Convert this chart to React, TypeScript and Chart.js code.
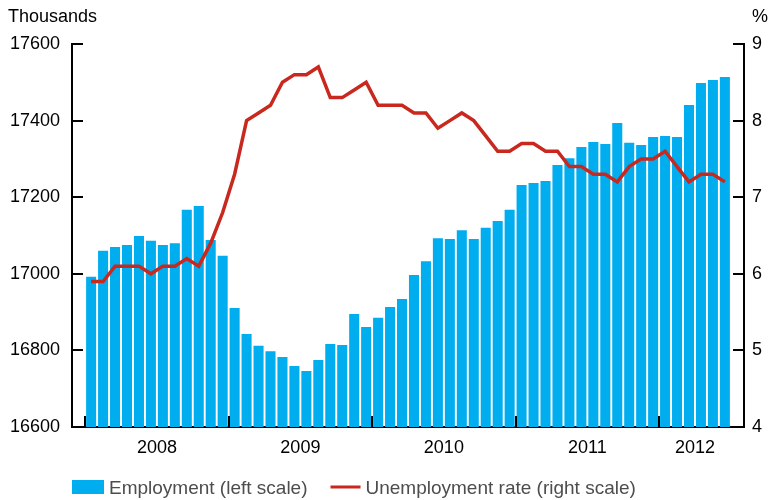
import React, { useEffect, useRef } from 'react';
import { Chart, registerables } from 'chart.js';

Chart.register(...registerables);

const years = ['2008', '2009', '2010', '2011', '2012'];
const monthsPerYear = [12, 12, 12, 12, 6];

const employment = [
  16992, 17060, 17070, 17075, 17099, 17086, 17075, 17080, 17167, 17177, 17088, 17047,
  16911, 16843, 16812, 16798, 16783, 16759, 16746, 16775, 16817, 16814, 16895, 16861,
  16885, 16913, 16934, 16997, 17033, 17093, 17091, 17114, 17091, 17120, 17138, 17167,
  17232, 17237, 17242, 17284, 17302, 17331, 17344, 17339, 17394, 17342, 17336, 17357,
  17360, 17357, 17441, 17498, 17506, 17514,
];

const unemployment = [
  5.9, 5.9, 6.1, 6.1, 6.1, 6.0, 6.1, 6.1, 6.2, 6.1, 6.4, 6.8,
  7.3, 8.0, 8.1, 8.2, 8.5, 8.6, 8.6, 8.7, 8.3, 8.3, 8.4, 8.5,
  8.2, 8.2, 8.2, 8.1, 8.1, 7.9, 8.0, 8.1, 8.0, 7.8, 7.6, 7.6,
  7.7, 7.7, 7.6, 7.6, 7.4, 7.4, 7.3, 7.3, 7.2, 7.4, 7.5, 7.5,
  7.6, 7.4, 7.2, 7.3, 7.3, 7.2,
];

const leftAxis = { min: 16600, max: 17600, step: 200, title: 'Thousands' };
const rightAxis = { min: 4, max: 9, step: 1, title: '%' };

const seriesLabels = ['Employment (left scale)', 'Unemployment rate (right scale)'];

const BAR_COLOR = '#00adef';
const LINE_COLOR = '#c8281e';
const FONT = '"Liberation Sans", Arial, Helvetica, sans-serif';

const yearStarts: number[] = [];
const yearCenters: number[] = [];
{
  let acc = 0;
  monthsPerYear.forEach((n) => {
    yearStarts.push(acc);
    yearCenters.push(acc + n / 2);
    acc += n;
  });
}

const decorPlugin = {
  id: 'decor',
  afterDraw(chart: any) {
    const ctx = chart.ctx as CanvasRenderingContext2D;
    const area = chart.chartArea;
    const xs = chart.scales.x;
    const yl = chart.scales.y;
    const yr = chart.scales.y1;
    ctx.save();
    ctx.strokeStyle = '#000';
    ctx.lineWidth = 2;
    ctx.beginPath();
    yl.ticks.forEach((t: any) => {
      const py = Math.round(yl.getPixelForValue(t.value));
      ctx.moveTo(area.left, py);
      ctx.lineTo(area.left + 11, py);
    });
    yr.ticks.forEach((t: any) => {
      const py = Math.round(yr.getPixelForValue(t.value));
      ctx.moveTo(area.right, py);
      ctx.lineTo(area.right - 11, py);
    });
    yearStarts.forEach((v) => {
      const px = Math.round(xs.getPixelForValue(v));
      ctx.moveTo(px, area.bottom);
      ctx.lineTo(px, area.bottom - 11);
    });
    ctx.stroke();

    // axis unit titles
    ctx.fillStyle = '#000';
    ctx.font = `18px ${FONT}`;
    ctx.textBaseline = 'alphabetic';
    ctx.textAlign = 'left';
    ctx.fillText(leftAxis.title, 8, 22);
    ctx.fillText(rightAxis.title, area.right + 8, 22);

    // legend
    const ds = chart.data.datasets;
    ctx.font = `19px ${FONT}`;
    ctx.fillStyle = ds[0].backgroundColor;
    let x = area.left;
    ctx.fillRect(x, 480, 32, 14);
    x += 37;
    ctx.fillStyle = '#4d4d4d';
    ctx.fillText(ds[0].label, x, 494);
    x += ctx.measureText(ds[0].label).width + 23;
    ctx.strokeStyle = ds[1].borderColor;
    ctx.lineWidth = 3;
    ctx.beginPath();
    ctx.moveTo(x, 487);
    ctx.lineTo(x + 30, 487);
    ctx.stroke();
    x += 35;
    ctx.fillStyle = '#4d4d4d';
    ctx.fillText(ds[1].label, x, 494);
    ctx.restore();
  },
};

export default function App() {
  const ref = useRef<HTMLCanvasElement | null>(null);

  useEffect(() => {
    if (!ref.current) return;
    const total = employment.length;
    const chart = new Chart(ref.current, {
      type: 'bar',
      data: {
        datasets: [
          {
            type: 'bar',
            label: seriesLabels[0],
            data: employment.map((v, i) => ({ x: i + 0.5, y: v })),
            backgroundColor: BAR_COLOR,
            borderWidth: 0,
            categoryPercentage: 1,
            barPercentage: 0.84,
            yAxisID: 'y',
            xAxisID: 'x',
            order: 2,
          } as any,
          {
            type: 'line',
            label: seriesLabels[1],
            data: unemployment.map((v, i) => ({ x: i + 0.5, y: v })),
            borderColor: LINE_COLOR,
            backgroundColor: LINE_COLOR,
            borderWidth: 3.5,
            pointRadius: 0,
            tension: 0,
            fill: false,
            yAxisID: 'y1',
            xAxisID: 'x',
            order: 1,
          } as any,
        ],
      },
      options: {
        responsive: false,
        animation: false,
        events: [],
        layout: { padding: { top: 44, left: 0, right: 0, bottom: 0 } },
        plugins: {
          legend: { display: false },
          tooltip: { enabled: false },
        },
        scales: {
          x: {
            type: 'linear',
            offset: false,
            min: -1.1,
            max: total + 1.1,
            grid: { display: false, drawTicks: false },
            border: { display: true, color: '#000', width: 2 },
            afterBuildTicks: (scale: any) => {
              scale.ticks = yearCenters.map((v) => ({ value: v }));
            },
            afterFit: (scale: any) => {
              scale.height = 73;
            },
            ticks: {
              autoSkip: false,
              maxRotation: 0,
              padding: 10,
              color: '#000',
              font: { family: FONT, size: 18 },
              callback: (_v: any, i: number) => years[i],
            },
          },
          y: {
            type: 'linear',
            position: 'left',
            min: leftAxis.min,
            max: leftAxis.max,
            grid: { display: false, drawTicks: false },
            border: { display: true, color: '#000', width: 2 },
            afterFit: (scale: any) => {
              scale.width = 72;
            },
            ticks: {
              stepSize: leftAxis.step,
              padding: 12,
              color: '#000',
              font: { family: FONT, size: 18 },
              callback: (v: any) => String(v),
            },
          },
          y1: {
            type: 'linear',
            position: 'right',
            min: rightAxis.min,
            max: rightAxis.max,
            grid: { display: false, drawTicks: false },
            border: { display: true, color: '#000', width: 2 },
            afterFit: (scale: any) => {
              scale.width = 26;
            },
            ticks: {
              stepSize: rightAxis.step,
              padding: 8,
              color: '#000',
              font: { family: FONT, size: 18 },
              callback: (v: any) => String(v),
            },
          },
        },
      } as any,
      plugins: [decorPlugin],
    });
    return () => chart.destroy();
  }, []);

  return (
    <div style={{ position: 'absolute', left: 0, top: 0, width: 770, height: 500, background: '#fff' }}>
      <canvas ref={ref} width={770} height={500} style={{ display: 'block' }} />
    </div>
  );
}
